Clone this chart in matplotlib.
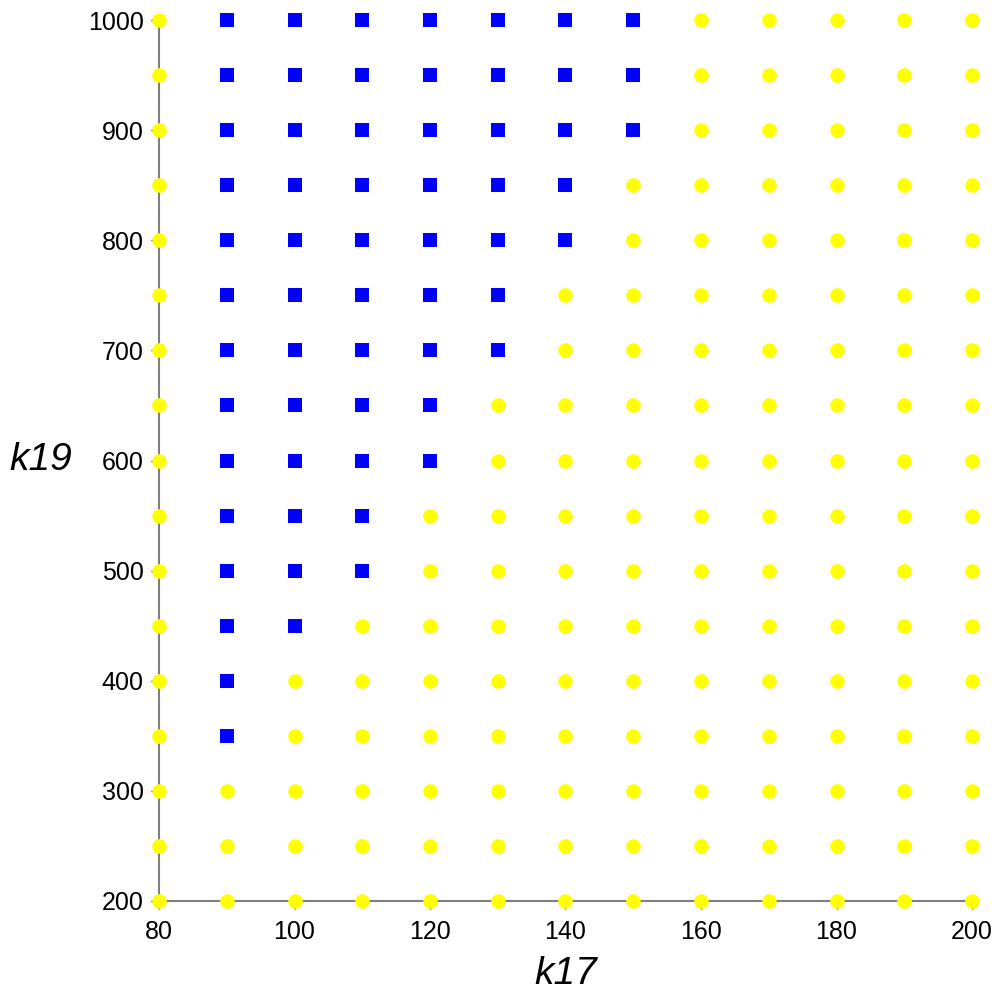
import matplotlib
matplotlib.use("Agg")
import matplotlib.pyplot as plt
import numpy as np

k17_values = [80, 90, 100, 110, 120, 130, 140, 150, 160, 170, 180, 190, 200]
k19_values = [200, 250, 300, 350, 400, 450, 500, 550, 600, 650, 700, 750, 800, 850, 900, 950, 1000]
# largest k17 giving a blue (square) point for each k19; None = no blue points
blue_max_k17 = [None, None, None, 90, 90, 100, 110, 110, 120, 120, 130, 130, 140, 140, 150, 150, 150]
blue_min_k17 = 90

plt.rcParams['font.family'] = ['Liberation Sans', 'DejaVu Sans']
fig = plt.figure(figsize=(10, 10), dpi=100)
ax = fig.add_axes([0.159, 0.099, 0.813, 0.881])

bx, by, yx, yy = [], [], [], []
for k19, bmax in zip(k19_values, blue_max_k17):
    for k17 in k17_values:
        if bmax is not None and blue_min_k17 <= k17 <= bmax:
            bx.append(k17); by.append(k19)
        else:
            yx.append(k17); yy.append(k19)

ax.plot(yx, yy, 'o', color='#FFFF00', markersize=10.5, markeredgewidth=0, clip_on=False, zorder=5)
ax.plot(bx, by, 's', color='#0000FF', markersize=9.5, markeredgewidth=0, clip_on=False, zorder=5)

ax.set_xlim(80, 200)
ax.set_ylim(200, 1000)
for s in ['top', 'right']:
    ax.spines[s].set_visible(False)
for s in ['left', 'bottom']:
    ax.spines[s].set_color('#808080')
    ax.spines[s].set_linewidth(1.5)
    ax.spines[s].set_zorder(1)

ax.set_xticks(np.arange(80, 201, 20))
ax.set_xticks(np.arange(90, 200, 20), minor=True)
ax.set_yticks(np.arange(200, 1001, 100))
ax.set_yticks(np.arange(250, 1000, 100), minor=True)
ax.tick_params(which='major', length=6, width=1, color='#333333', labelsize=18, pad=5)
ax.tick_params(which='minor', length=4, width=1, color='#333333')
ax.tick_params(axis='x', which='major', pad=8)

ax.set_xlabel('k17', fontsize=28, style='italic', labelpad=8)
ax.set_ylabel('k19', fontsize=28, style='italic', rotation=0, va='center', ha='center')
ax.yaxis.set_label_coords(-0.145, (600 - 200) / 800)

fig.savefig('out.png', dpi=100, facecolor='white')
